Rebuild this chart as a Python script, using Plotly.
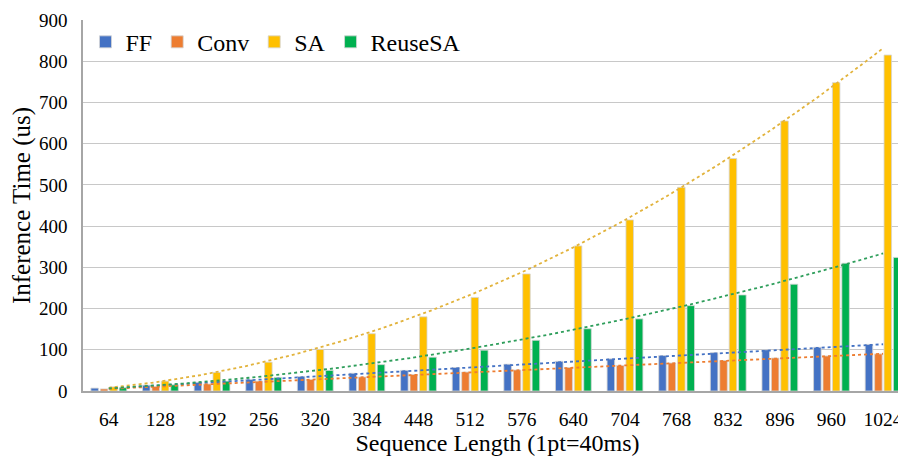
import numpy as np
import plotly.graph_objects as go

categories = ["64", "128", "192", "256", "320", "384", "448", "512",
              "576", "640", "704", "768", "832", "896", "960", "1024"]
ff = [7, 14, 21, 28, 35, 43, 50, 57, 65, 72, 78, 86, 93, 100, 106, 113]
conv = [5, 11, 17, 24, 28, 34, 40, 46, 51, 57, 62, 68, 74, 80, 85, 90]
sa = [10, 24, 45, 70, 101, 139, 180, 227, 284, 352, 415, 494, 564, 655, 748, 815]
reuse = [8, 15, 24, 33, 50, 64, 82, 99, 123, 151, 175, 207, 233, 259, 310, 324]

series = [("FF", ff, "#4472C4"), ("Conv", conv, "#ED7D31"),
          ("SA", sa, "#FFC000"), ("ReuseSA", reuse, "#00B050")]
trend_colors = {"FF": "#4472C4", "Conv": "#ED7D31", "SA": "#E2B33C", "ReuseSA": "#2E9E5B"}

FONT = "Liberation Serif, Times New Roman, serif"
idx = np.arange(len(categories))

fig = go.Figure()
for name, vals, col in series:
    fig.add_trace(go.Bar(x=idx, y=vals, name=name, marker_color=col,
                         marker_line=dict(color="#d4d4d4", width=0.8)))

# polynomial (order 2) trendlines fitted to each series
xf = np.linspace(0, len(categories) - 1, 200)
for name, vals, col in series:
    c = np.polyfit(idx + 1, vals, 2)
    fig.add_trace(go.Scatter(x=xf, y=np.polyval(c, xf + 1), mode="lines",
                             line=dict(color=trend_colors[name], width=1.8, dash="dot"),
                             showlegend=False, hoverinfo="skip"))

# the page adds an 8px body margin; the plot area runs slightly past the window's right edge
fig.update_layout(
    width=906, height=470,
    margin=dict(l=75, r=2, t=9, b=87),
    paper_bgcolor="white", plot_bgcolor="white",
    barmode="group", bargap=0.27, bargroupgap=0.2,
    font=dict(family=FONT, color="#000000"),
    legend=dict(orientation="h", x=0.003, y=0.94, xanchor="left", yanchor="middle",
                font=dict(family=FONT, size=24, color="#000000"),
                bgcolor="rgba(0,0,0,0)", itemclick=False),
    showlegend=True,
)
fig.update_xaxes(
    tickmode="array", tickvals=idx, ticktext=categories,
    range=[-0.5, 15.56], showgrid=False, ticks="",
    showline=True, linecolor="#a6a6a6", linewidth=1.5,
    ticklabeloverflow="allow", ticklabelstandoff=10,
    tickfont=dict(family=FONT, size=19.5, color="#000000"),
    title=dict(text="Sequence Length (1pt=40ms)", font=dict(family=FONT, size=24), standoff=0),
)
fig.update_yaxes(
    range=[0, 900], dtick=100, showgrid=True, gridcolor="#c8c8c8", gridwidth=1,
    showline=True, linecolor="#a6a6a6", linewidth=1.5, zeroline=False, ticks="",
    ticklabeloverflow="allow", ticklabelstandoff=10,
    tickfont=dict(family=FONT, size=19, color="#000000"),
    title=dict(text="Inference Time (us)", font=dict(family=FONT, size=25), standoff=2),
)

fig.write_html("out.html")
